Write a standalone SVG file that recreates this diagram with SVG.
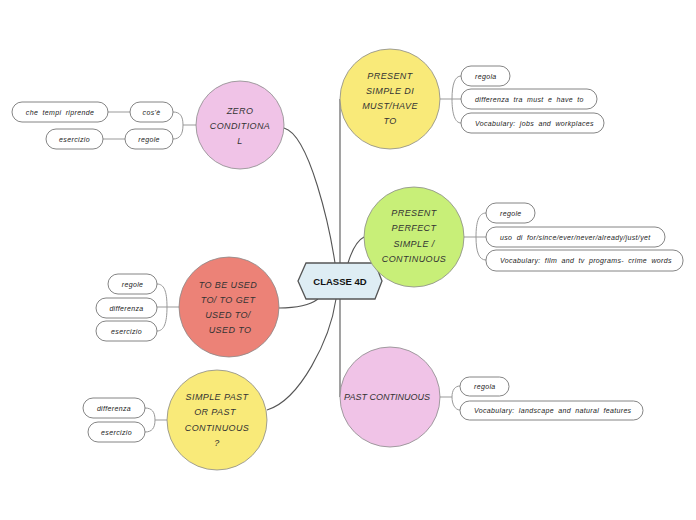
<svg xmlns="http://www.w3.org/2000/svg" width="696" height="520" viewBox="0 0 696 520">
<style>
.main{fill:none;stroke:#555;stroke-width:1.1}
.sub{fill:none;stroke:#999;stroke-width:1}
.circ{stroke:#8a8a8a;stroke-width:0.8}
.pill{fill:#fff;stroke:#666;stroke-width:0.8}
.ct{font-family:"Liberation Sans",Arial,sans-serif;font-style:italic;font-size:9px;fill:#333;text-anchor:middle;letter-spacing:0.4px}
.st{font-family:"Liberation Sans",Arial,sans-serif;font-style:italic;font-size:7px;fill:#222;letter-spacing:0.35px;word-spacing:2px}
.stm{text-anchor:middle}
</style>
<rect width="696" height="520" fill="#fff"/>
<g id="connectors">
<path class="main" d="M340 263 V99"/>
<path class="main" d="M340 299 V397"/>
<path class="main" d="M284 128 C310 135, 330 230, 335 263"/>
<path class="main" d="M348 263 C352 250, 358 240, 364 237"/>
<path class="main" d="M279 308 C295 308, 310 305, 318 299"/>
<path class="main" d="M267 410 C300 400, 330 340, 336 299"/>
<path class="sub" d="M196 125 H183 M183 125 C183 116, 180 112, 173 112 M183 125 C183 134, 180 139, 173 139 M130 112 H108 M125 139 H103"/>
<path class="sub" d="M440 99 H452 M452 99 C452 84, 455 76, 461 76 M452 99 H461 M452 99 C452 114, 455 123, 461 123"/>
<path class="sub" d="M464 237 H476 M476 237 C476 221, 479 213, 486 213 M476 237 H486 M476 237 C476 252, 479 260, 486 260"/>
<path class="sub" d="M179 307 H167 M167 307 C167 291, 164 284, 157 284 M167 307 H157 M167 307 C167 323, 164 331, 157 331"/>
<path class="sub" d="M167 420 H155 M155 420 C155 412, 152 408, 145 408 M155 420 C155 428, 152 432, 145 432"/>
<path class="sub" d="M440 397 H452 M452 397 C452 390, 455 386, 460 386 M452 397 C452 404, 455 410, 460 410"/>
</g>
<g id="center">
<polygon points="298,281 306,263 375,263 382,281 375,299 306,299" fill="#deedf4" stroke="#555" stroke-width="1.3"/>
<text x="340" y="284.5" font-family="'Liberation Sans',Arial,sans-serif" font-weight="bold" font-size="9.5" fill="#111" text-anchor="middle">CLASSE 4D</text>
</g>
<g id="zero">
<circle class="circ" cx="240" cy="125" r="44" fill="#f0c3e7"/>
<text class="ct" x="240" y="114">ZERO</text>
<text class="ct" x="240" y="129">CONDITIONA</text>
<text class="ct" x="240" y="144">L</text>
</g>
<g id="zero-cose"><rect class="pill" x="130" y="102" width="43" height="20" rx="10"/><text class="st stm" x="151.5" y="114.5">cos'è</text></g>
<g id="zero-regole"><rect class="pill" x="125" y="129" width="48" height="20" rx="10"/><text class="st stm" x="149" y="141.5">regole</text></g>
<g id="zero-tempi"><rect class="pill" x="12" y="102" width="96" height="20" rx="10"/><text class="st stm" x="60" y="114.5">che tempi riprende</text></g>
<g id="zero-esercizio"><rect class="pill" x="46" y="129" width="57" height="20" rx="10"/><text class="st stm" x="74.5" y="141.5">esercizio</text></g>

<g id="present-simple">
<circle class="circ" cx="390" cy="99" r="50" fill="#f9ea79"/>
<text class="ct" x="390" y="79">PRESENT</text>
<text class="ct" x="390" y="94">SIMPLE DI</text>
<text class="ct" x="390" y="109">MUST/HAVE</text>
<text class="ct" x="390" y="124">TO</text>
</g>
<g id="ps-regola"><rect class="pill" x="461" y="66" width="49" height="20" rx="10"/><text class="st" x="475" y="78.5">regola</text></g>
<g id="ps-diff"><rect class="pill" x="461" y="89" width="136" height="20" rx="10"/><text class="st" x="475" y="101.5">differenza tra must e have to</text></g>
<g id="ps-vocab"><rect class="pill" x="461" y="113" width="143" height="20" rx="10"/><text class="st" x="475" y="125.5">Vocabulary: jobs and workplaces</text></g>

<g id="present-perfect">
<circle class="circ" cx="414" cy="237" r="50" fill="#c8ef78"/>
<text class="ct" x="414" y="216">PRESENT</text>
<text class="ct" x="414" y="231">PERFECT</text>
<text class="ct" x="414" y="247">SIMPLE /</text>
<text class="ct" x="414" y="262">CONTINUOUS</text>
</g>
<g id="pp-regole"><rect class="pill" x="486" y="203" width="49" height="20" rx="10"/><text class="st" x="500" y="215.5">regole</text></g>
<g id="pp-uso"><rect class="pill" x="486" y="227" width="179" height="20" rx="10"/><text class="st" x="500" y="239.5">uso di for/since/ever/never/already/just/yet</text></g>
<g id="pp-vocab"><rect class="pill" x="486" y="250" width="197" height="21" rx="10"/><text class="st" x="500" y="263">Vocabulary: film and tv programs- crime words</text></g>

<g id="used-to">
<circle class="circ" cx="229" cy="307" r="50" fill="#ec8277"/>
<text class="ct" x="228" y="288">TO BE USED</text>
<text class="ct" x="228" y="303">TO/ TO GET</text>
<text class="ct" x="228" y="318">USED TO/</text>
<text class="ct" x="230" y="333">USED TO</text>
</g>
<g id="ut-regole"><rect class="pill" x="108" y="274" width="49" height="20" rx="10"/><text class="st stm" x="132.5" y="286.5">regole</text></g>
<g id="ut-diff"><rect class="pill" x="96" y="298" width="61" height="20" rx="10"/><text class="st stm" x="126.5" y="310.5">differenza</text></g>
<g id="ut-eser"><rect class="pill" x="96" y="321" width="61" height="20" rx="10"/><text class="st stm" x="126.5" y="333.5">esercizio</text></g>

<g id="simple-past">
<circle class="circ" cx="217" cy="420" r="50" fill="#f9ea79"/>
<text class="ct" x="217" y="400">SIMPLE PAST</text>
<text class="ct" x="215" y="415">OR PAST</text>
<text class="ct" x="217" y="431">CONTINUOUS</text>
<text class="ct" x="217" y="446">?</text>
</g>
<g id="sp-diff"><rect class="pill" x="83" y="398" width="62" height="20" rx="10"/><text class="st stm" x="114" y="410.5">differenza</text></g>
<g id="sp-eser"><rect class="pill" x="88" y="422" width="57" height="20" rx="10"/><text class="st stm" x="116.5" y="434.5">esercizio</text></g>

<g id="past-continuous">
<circle class="circ" cx="390" cy="397" r="50" fill="#f0c3e7"/>
<text class="ct" x="387" y="400" style="letter-spacing:0">PAST CONTINUOUS</text>
</g>
<g id="pc-regola"><rect class="pill" x="460" y="377" width="49" height="19" rx="9.5"/><text class="st" x="474" y="389">regola</text></g>
<g id="pc-vocab"><rect class="pill" x="460" y="401" width="183" height="19" rx="9.5"/><text class="st" x="474" y="413">Vocabulary: landscape and natural features</text></g>
</svg>
